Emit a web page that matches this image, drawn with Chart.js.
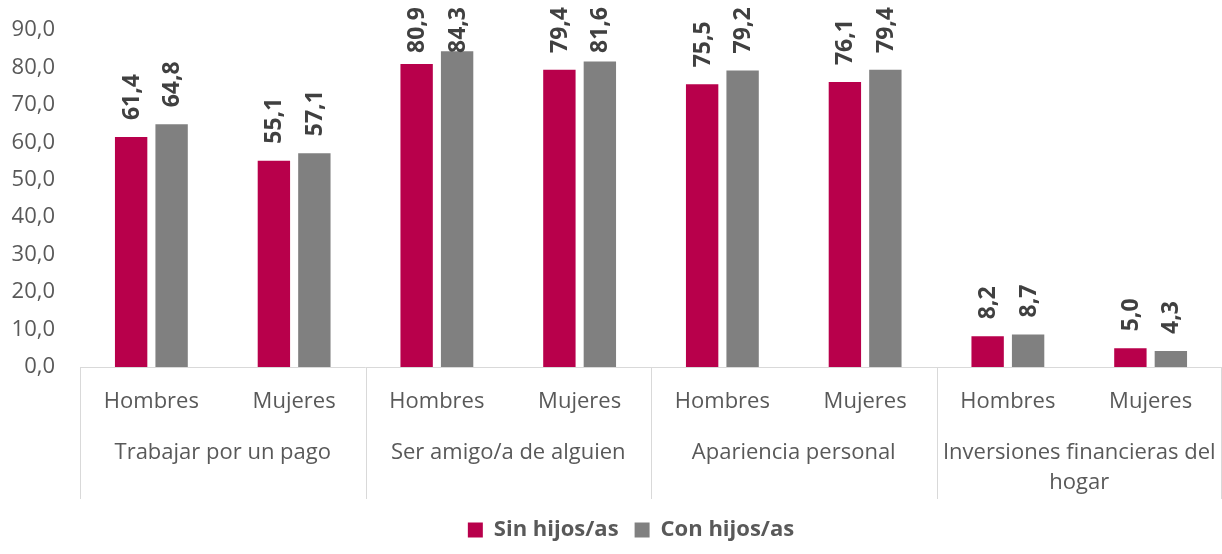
<!DOCTYPE html>
<html><head><meta charset="utf-8">
<script src="https://cdn.jsdelivr.net/npm/chart.js@4/dist/chart.umd.min.js"></script>
<style>html,body{margin:0;padding:0;background:#fff}#wrap{width:1222px;height:554px;position:relative}</style>
</head><body><div id="wrap"><canvas id="c"></canvas></div>
<script>
const subCategories = ['Hombres','Mujeres','Hombres','Mujeres','Hombres','Mujeres','Hombres','Mujeres'];
const groupLabels = [['Trabajar por un pago'],['Ser amigo/a de alguien'],['Apariencia personal'],['Inversiones financieras del','hogar']];
const sinHijos = [61.4,55.1,80.9,79.4,75.5,76.1,8.2,5.0];
const conHijos = [64.8,57.1,84.3,81.6,79.2,79.4,8.7,4.3];
const seriesNames = ['Sin hijos/as','Con hijos/as'];
const yMin = 0, yMax = 90, yStep = 10;

const FONT = "'Open Sans', 'Noto Sans', sans-serif";
const fmt = v => v.toFixed(1).replace('.', ',');

const separators = {
  id: 'separators',
  afterDraw(chart) {
    const x = chart.scales.x, x2 = chart.scales.x2, ctx = chart.ctx;
    ctx.save();
    ctx.strokeStyle = '#d9d9d9';
    ctx.lineWidth = 1;
    for (let k = 0; k <= subCategories.length; k += 2) {
      let px = Math.round(x.getPixelForValue(k - 0.5)) + 0.5;
      if (px > chart.width) px = chart.width - 0.5;
      ctx.beginPath();
      ctx.moveTo(px, x.top);
      ctx.lineTo(px, x2.bottom - 4);
      ctx.stroke();
    }
    ctx.restore();
  }
};

const barLabels = {
  id: 'barLabels',
  afterDatasetsDraw(chart) {
    const ctx = chart.ctx;
    ctx.save();
    ctx.font = "bold 23px " + FONT;
    ctx.fillStyle = '#404040';
    ctx.textAlign = 'left';
    ctx.textBaseline = 'middle';
    chart.data.datasets.forEach((ds, i) => {
      const meta = chart.getDatasetMeta(i);
      meta.data.forEach((bar, j) => {
        const txt = fmt(ds.data[j]);
        const w = ctx.measureText(txt).width;
        let y0 = bar.y - 17;
        if (y0 - w < 7) y0 = 7 + w;
        ctx.save();
        ctx.translate(bar.x + 1, y0);
        ctx.rotate(-Math.PI / 2);
        ctx.fillText(txt, 0, 0);
        ctx.restore();
      });
    });
    ctx.restore();
  }
};

const legendShift = {
  id: 'legendShift',
  afterLayout(chart) {
    if (chart.legend) { chart.legend.left += 20; chart.legend.right += 20; }
  }
};

const noSidePad = s => { s.paddingLeft = 0; s.paddingRight = 0; };

new Chart(document.getElementById('c'), {
  type: 'bar',
  data: {
    labels: subCategories,
    datasets: [
      { label: seriesNames[0], data: sinHijos, backgroundColor: '#B8004B', xAxisID: 'x', categoryPercentage: 0.567, barPercentage: 0.8 },
      { label: seriesNames[1], data: conHijos, backgroundColor: '#808080', xAxisID: 'x', categoryPercentage: 0.567, barPercentage: 0.8 }
    ]
  },
  options: {
    responsive: true,
    maintainAspectRatio: false,
    animation: false,
    layout: { padding: { top: 30, left: 0, right: 0, bottom: 3 } },
    plugins: {
      legend: {
        position: 'bottom',
        labels: {
          boxWidth: 15, boxHeight: 15, padding: 16,
          color: '#595959',
          font: { family: FONT, size: 22, weight: 'bold' }
        }
      },
      tooltip: { enabled: false }
    },
    scales: {
      y: {
        min: yMin, max: yMax,
        afterFit: s => { s.width = 80; s.paddingTop = 0; s.paddingBottom = 0; },
        ticks: { stepSize: yStep, padding: 25, color: '#595959', font: { family: FONT, size: 22 }, callback: v => fmt(v) },
        grid: { display: false, drawTicks: false },
        border: { display: false }
      },
      x: {
        type: 'category',
        position: 'bottom',
        weight: 0,
        offset: true,
        afterFit: s => { s.height = 58; noSidePad(s); },
        ticks: { padding: 20, color: '#595959', maxRotation: 0, autoSkip: false, font: { family: FONT, size: 22, lineHeight: 1.36 } },
        grid: { display: false, drawTicks: false },
        border: { display: true, color: '#d9d9d9', width: 1 }
      },
      x2: {
        type: 'category',
        position: 'bottom',
        weight: 1,
        offset: true,
        labels: groupLabels,
        afterFit: s => { s.height = 78; noSidePad(s); },
        ticks: { padding: 13, color: '#595959', maxRotation: 0, autoSkip: false, font: { family: FONT, size: 22, lineHeight: 1.36 } },
        grid: { display: false, drawTicks: false },
        border: { display: false }
      }
    }
  },
  plugins: [separators, barLabels, legendShift]
});
</script></body></html>
